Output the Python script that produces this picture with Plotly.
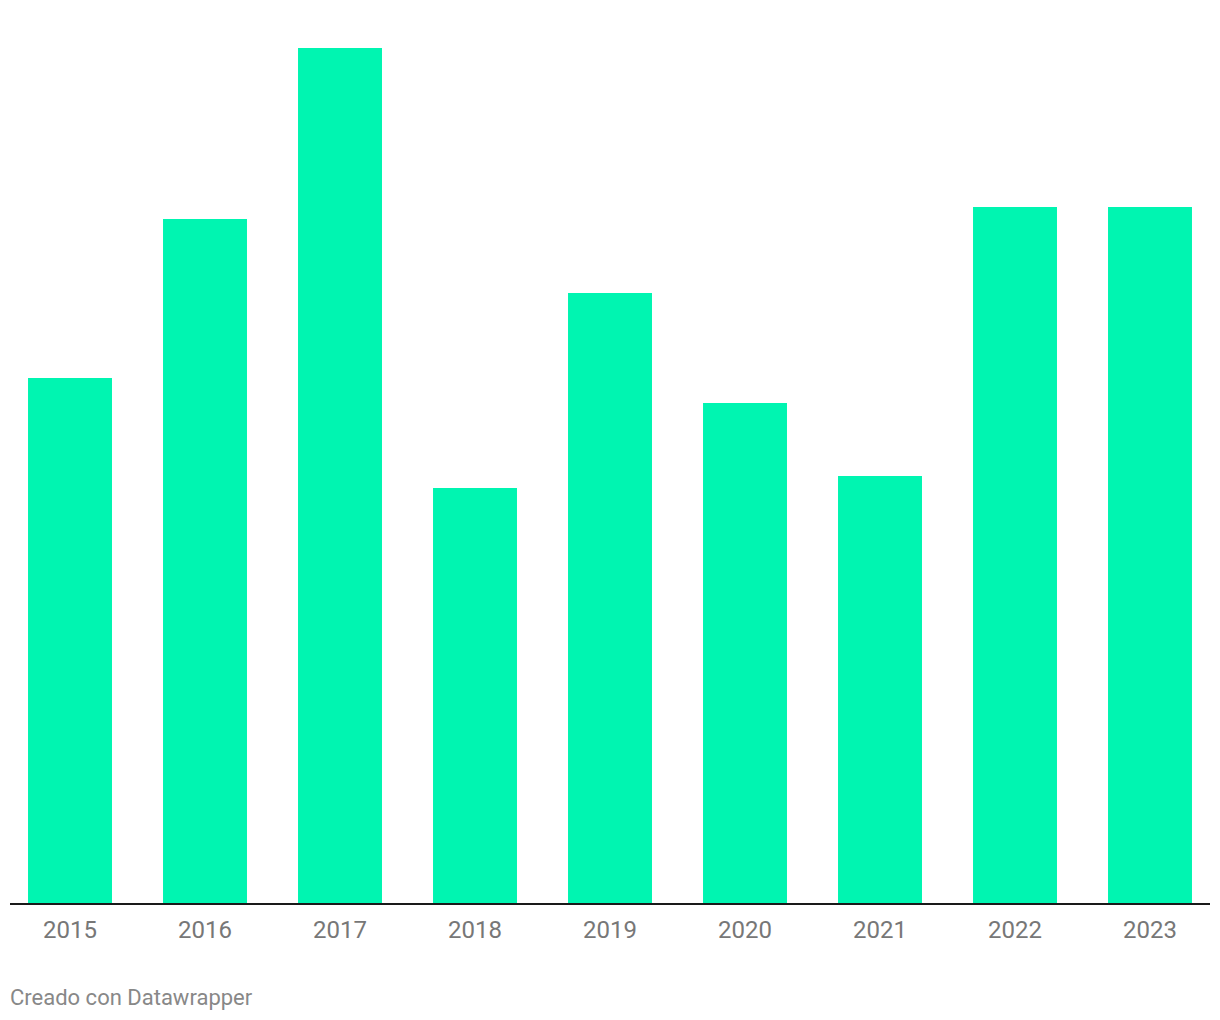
import plotly.graph_objects as go

years = ["2015", "2016", "2017", "2018", "2019", "2020", "2021", "2022", "2023"]
values = [52.5, 68.4, 85.5, 41.5, 61.0, 50.0, 42.7, 69.6, 69.6]

fig = go.Figure(go.Bar(
    x=list(range(len(years))), y=values,
    marker=dict(color="#00F5B1", line=dict(width=0)),
    width=0.622, hoverinfo="skip",
))

fig.update_layout(
    width=1220, height=1020,
    margin=dict(l=2, r=18, t=40, b=125),
    paper_bgcolor="white", plot_bgcolor="white",
    showlegend=False,
    font=dict(family="Roboto", color="#777777"),
    xaxis=dict(
        range=[-60/135, 8 + 60/135],
        tickmode="array", tickvals=list(range(len(years))), ticktext=years,
        tickfont=dict(size=24, color="#777777"),
        ticklabelstandoff=10,
        showgrid=False, zeroline=False, showline=False, ticks="", ticklen=0,
    ),
    yaxis=dict(range=[0, max(values)], visible=False, showgrid=False, zeroline=False),
    shapes=[dict(type="line", xref="paper", yref="paper", x0=0, x1=1,
                 y0=-1/855, y1=-1/855,
                 line=dict(color="#1a1a1a", width=2))],
    annotations=[dict(text="Creado con Datawrapper", xref="paper", yref="paper",
                      x=0, y=-94/855, xanchor="left", yanchor="middle", showarrow=False,
                      xshift=-2,
                      font=dict(size=22, color="#888888", family="Roboto"))],
)

fig.write_html("out.html")
